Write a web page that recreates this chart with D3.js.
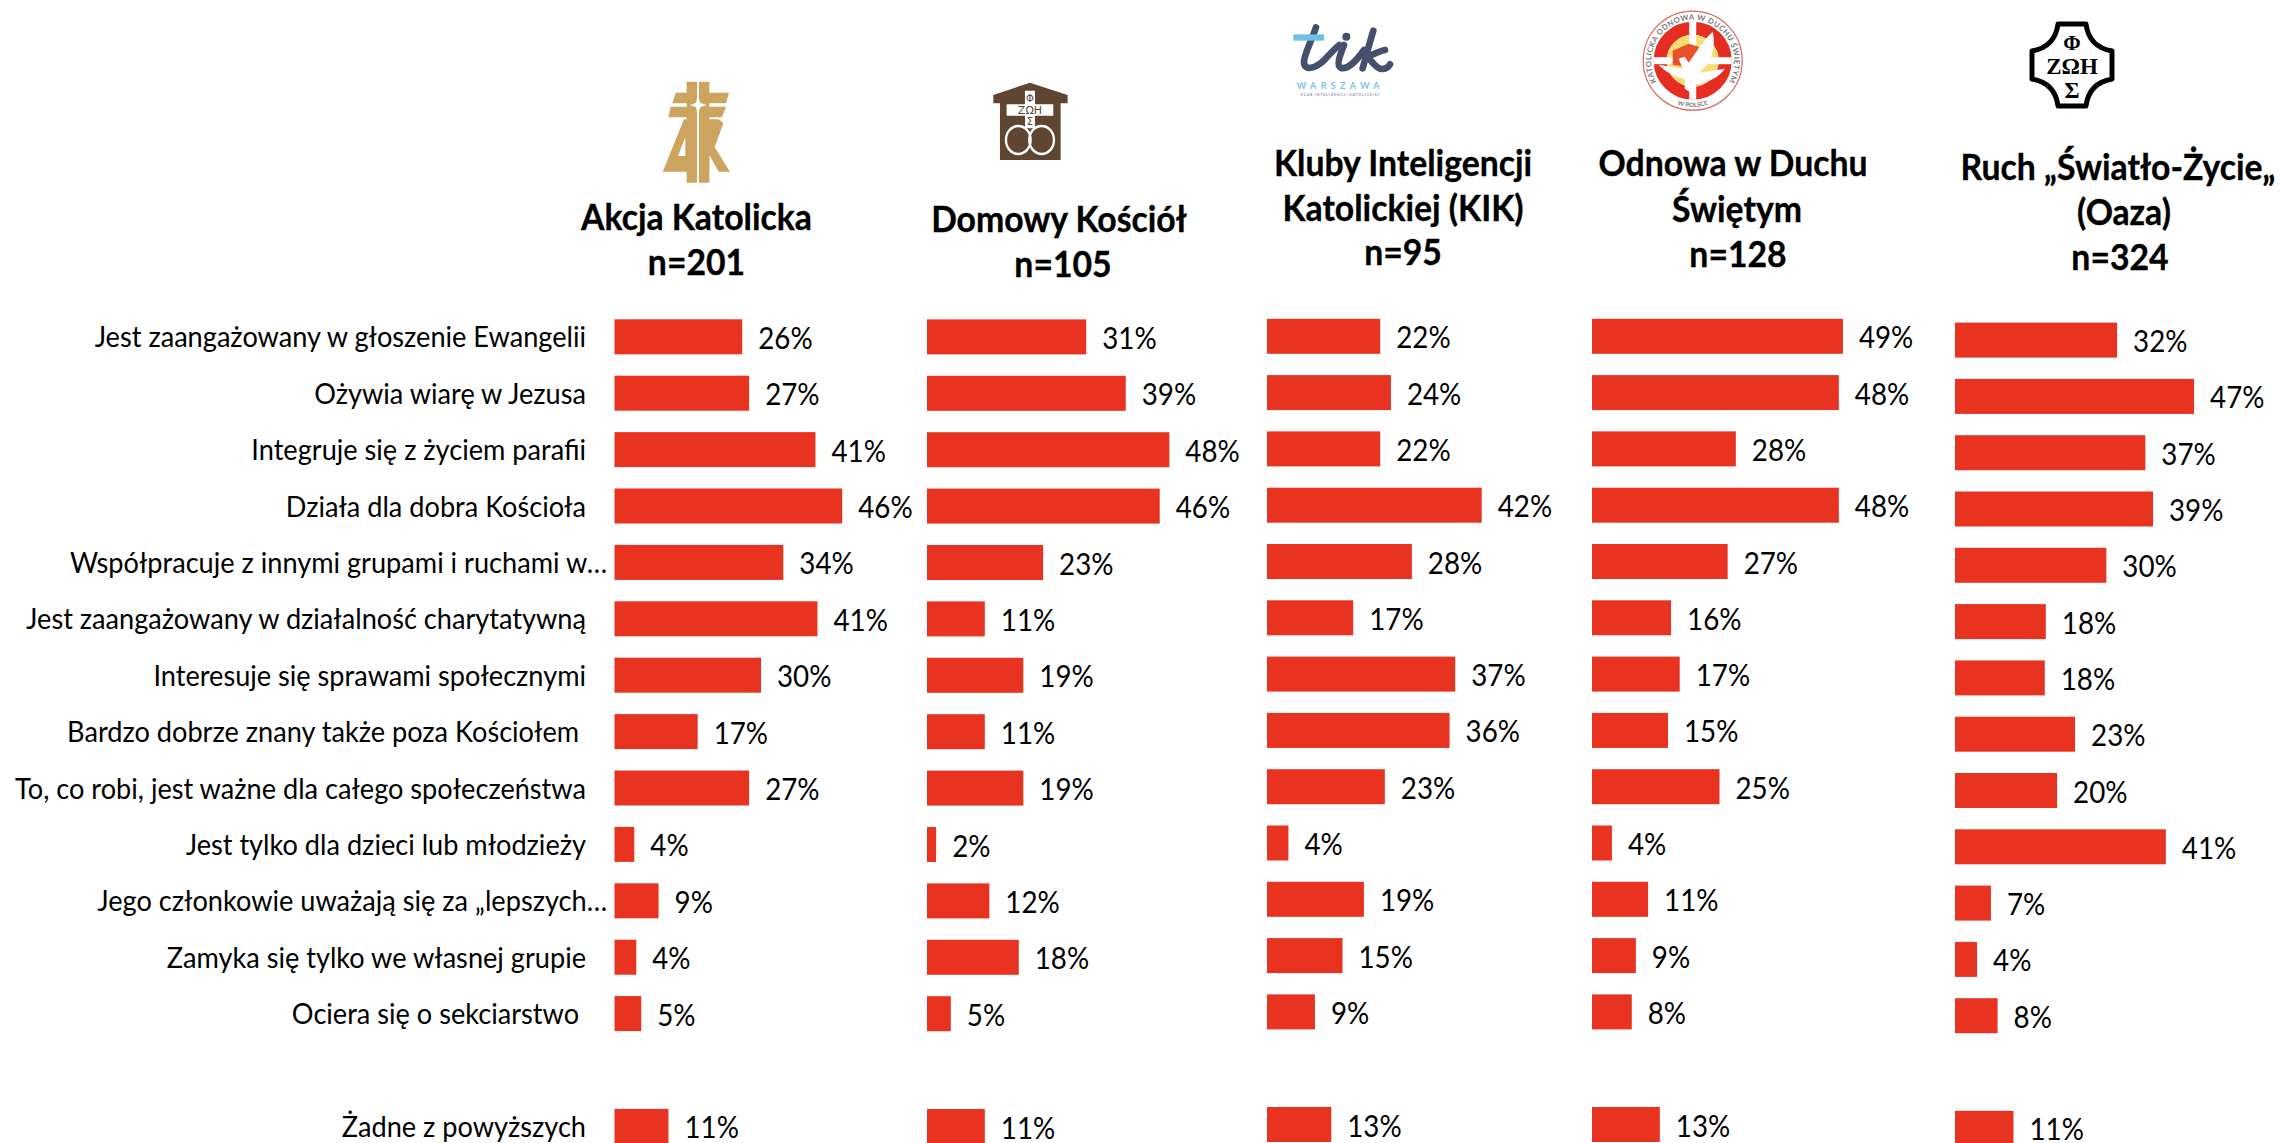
<!DOCTYPE html>
<html><head><meta charset="utf-8">
<script src="https://cdn.jsdelivr.net/npm/d3@7"></script>
<style>html,body{margin:0;padding:0;background:#fff;overflow:hidden}svg{display:block}text{font-family:Lato,"Open Sans",sans-serif}</style>
</head><body><svg id="c" width="2280" height="1143" xmlns="http://www.w3.org/2000/svg"></svg>
<script>
const categories = ["Jest zaangażowany w głoszenie Ewangelii","Ożywia wiarę w Jezusa","Integruje się z życiem parafii","Działa dla dobra Kościoła","Współpracuje z innymi grupami i ruchami w…","Jest zaangażowany w działalność charytatywną","Interesuje się sprawami społecznymi","Bardzo dobrze znany także poza Kościołem\u00a0","To, co robi, jest ważne dla całego społeczeństwa","Jest tylko dla dzieci lub młodzieży","Jego członkowie uważają się za „lepszych…","Zamyka się tylko we własnej grupie","Ociera się o sekciarstwo\u00a0","","Żadne z powyższych"];
const akcja  = [25.8,27.2,40.6,46.0,34.1,41.0,29.6,16.8,27.2,4.0,8.9,4.4,5.4,null,10.9];
const domowy = [31.4,39.2,47.8,45.9,22.9,11.4,19.0,11.4,19.0,1.8,12.3,18.1,4.7,null,11.4];
const kluby  = [22.2,24.3,22.2,42.1,28.4,16.9,36.9,35.8,23.1,4.2,19.0,14.8,9.4,null,12.6];
const odnowa = [49.2,48.4,28.2,48.4,26.6,15.5,17.2,14.9,25.0,3.9,11.0,8.6,7.8,null,13.3];
const oaza   = [31.6,46.6,37.1,38.6,29.5,17.7,17.5,23.4,19.9,41.1,7.0,4.3,8.3,null,11.4];
const seriesValues = [akcja,domowy,kluby,odnowa,oaza];
const columnStart = [614.5,927,1267,1592,1955];
const columnPxPerPct = [4.95,5.07,5.1,5.1,5.13];
const columnTop = [319.3,319.4,318.8,318.8,322.6];
const columnStep = [56.4,56.4,56.3,56.3,56.3];
const headerLines = [
  [["Akcja Katolicka",696.5,229.5],["n=201",696.5,274.5]],
  [["Domowy Kościół",1059,232],["n=105",1063,277]],
  [["Kluby Inteligencji",1403,175.5],["Katolickiej (KIK)",1403,220.5],["n=95",1403,265]],
  [["Odnowa w Duchu",1733,175.5],["Świętym",1737,222],["n=128",1738,267]],
  [["Ruch „Światło-Życie„",2118,179.5],["(Oaza)",2124,224.5],["n=324",2120,270]]
];
const BAR_H=35, RED="#E73320", CAT=0.92, VAL=0.925, HEAD=0.95;
const svg=d3.select("#c");
function squeeze(sel,f){sel.each(function(){const w=this.getComputedTextLength();d3.select(this).attr("textLength",w*f).attr("lengthAdjust","spacingAndGlyphs");});}

// category labels
const y0=d3.scaleBand().domain(d3.range(categories.length))
  .range([columnTop[0]-(columnStep[0]-BAR_H)/2,columnTop[0]-(columnStep[0]-BAR_H)/2+columnStep[0]*categories.length])
  .paddingInner(1-BAR_H/columnStep[0]).paddingOuter((1-BAR_H/columnStep[0])/2);
svg.append("g").selectAll("text").data(categories).join("text")
  .attr("x",d=>d.endsWith("…")?607:586).attr("y",(d,i)=>y0(i)+BAR_H/2+10.5)
  .attr("text-anchor","end").attr("font-size",29.5).attr("fill","#000").text(d=>d).call(squeeze,CAT);

// columns
seriesValues.forEach((vals,c)=>{
  const x=d3.scaleLinear().domain([0,50]).range([columnStart[c],columnStart[c]+50*columnPxPerPct[c]]);
  const off=(columnStep[c]-BAR_H)/2;
  const y=d3.scaleBand().domain(d3.range(vals.length))
    .range([columnTop[c]-off,columnTop[c]-off+columnStep[c]*vals.length])
    .paddingInner(1-BAR_H/columnStep[c]).paddingOuter((1-BAR_H/columnStep[c])/2);
  const rows=vals.map((v,i)=>({v,i})).filter(d=>d.v!==null);
  const g=svg.append("g");
  g.selectAll("rect").data(rows).join("rect")
    .attr("x",x(0)).attr("y",d=>y(d.i)).attr("width",d=>x(d.v)-x(0)).attr("height",y.bandwidth()).attr("fill",RED);
  g.selectAll("text").data(rows).join("text")
    .attr("x",d=>x(d.v)+16).attr("y",d=>y(d.i)+y.bandwidth()/2+12)
    .attr("font-size",30).attr("fill","#000").text(d=>Math.round(d.v)+"%").call(squeeze,VAL);
});

// headers
svg.append("g").selectAll("text").data(headerLines.flat()).join("text")
  .attr("x",d=>d[1]).attr("y",d=>d[2]).attr("text-anchor","middle")
  .attr("font-size",35.5).attr("font-weight",700).attr("stroke","#000").attr("stroke-width",0.35).attr("fill","#000").text(d=>d[0]).call(squeeze,HEAD);

// ---- logos (decorative vector sketches) ----
// Akcja Katolicka
const ak=svg.append("g").attr("transform","translate(640,60) scale(0.3333)").attr("fill","#CCA35F");
["M140,65 L171,65 L171,368 L140,368Z","M177,65 L208,65 L208,368 L177,368Z",
 "M107,98 L171,98 L171,130 L97,130Z","M177,98 L267,98 L258,130 L177,130Z",
 "M92,140 L171,140 L171,172 L85,172Z","M177,140 L258,140 L246,172 L177,172Z",
 "M132,178 L171,178 L171,335 L68,335Z",
 "M177,178 L236,178 L250,190 L224,262 L270,335 L236,335 L208,285 L208,335 L177,335Z"
].forEach(p=>ak.append("path").attr("d",p));
ak.append("path").attr("d","M136,232 L136,288 L114,288Z").attr("fill","#fff");
ak.append("path").attr("d","M174,105 L180,128 L200,135 L180,142 L174,170 L168,142 L150,135 L168,128Z").attr("fill","#fff");

// Domowy Kościół
const dk=svg.append("g").attr("transform","translate(640,60) scale(0.3333)");
dk.append("path").attr("fill","#5F4633").attr("d","M1170,68 L1283,105 L1283,130 L1262,130 L1262,300 L1080,300 L1080,130 L1060,130 L1060,105Z");
dk.append("path").attr("fill","#fff").attr("d","M1155,92 L1185,92 L1185,133 L1240,133 L1240,167 L1185,167 L1185,205 L1155,205 L1155,167 L1100,167 L1100,133 L1155,133Z");
dk.selectAll("ellipse").data([1135,1205]).join("ellipse").attr("cx",d=>d).attr("cy",240).attr("rx",37).attr("ry",42)
  .attr("fill","none").attr("stroke","#fff").attr("stroke-width",7);
dk.selectAll("text").data([["Φ",1170,127,30],["ΖΩΗ",1170,163,33],["Σ",1170,196,30]]).join("text")
  .attr("x",d=>d[1]).attr("y",d=>d[2]).attr("font-size",d=>d[3]).attr("text-anchor","middle").attr("fill","#5F4633")
  .style("font-family","'DejaVu Sans'").text(d=>d[0]);

// KIK
const kik=svg.append("g").attr("transform","translate(1270,0) scale(0.3333)");
const ks=kik.append("g").attr("fill","none").attr("stroke","#474F6F").attr("stroke-width",20).attr("stroke-linecap","round");
["M138,82 C125,122 100,168 102,188 C104,212 135,208 165,178 C180,162 192,148 208,135",
 "M222,135 C210,165 198,198 213,204 C232,208 258,185 282,150",
 "M310,92 C298,130 288,170 278,205",
 "M345,150 C330,152 305,165 290,172 C305,178 315,205 335,207 C348,207 356,200 360,193"
].forEach(p=>ks.append("path").attr("d",p));
kik.append("circle").attr("cx",229).attr("cy",110).attr("r",12).attr("fill","#474F6F");
kik.append("rect").attr("x",70).attr("y",103).attr("width",92).attr("height",19).attr("fill","#6DC1E3");
kik.append("text").attr("x",211).attr("y",268).attr("text-anchor","middle").attr("font-size",27).attr("font-weight",700)
  .attr("letter-spacing",13).attr("fill","#7CC3DE").text("WARSZAWA");
kik.append("text").attr("x",211).attr("y",288).attr("text-anchor","middle").attr("font-size",10.5).attr("font-weight",700)
  .attr("letter-spacing",2.5).attr("fill","#8d93a8").text("KLUB INTELIGENCJI KATOLICKIEJ");

// Odnowa
const od=svg.append("g").attr("transform","translate(1692.7,60.7)");
od.append("circle").attr("r",49.5).attr("fill","#fff").attr("stroke","#D9665E").attr("stroke-width",1.2);
od.append("circle").attr("r",32.5).attr("fill","none").attr("stroke","#E52D22").attr("stroke-width",13);
od.append("circle").attr("r",26).attr("fill","#F7DC72");
od.append("rect").attr("x",-3.5).attr("y",-39).attr("width",7).attr("height",78).attr("fill","#fff");
od.append("rect").attr("x",-39).attr("y",-3.5).attr("width",78).attr("height",7).attr("fill","#fff");
od.append("path").attr("fill","#E8512A").attr("d","M-20,-10 L-4,-17 L6,-14 L4,2 L-8,6 L-20,4Z");
od.append("path").attr("fill","#E8512A").attr("d","M-6,18 L6,20 L4,26 L-4,24Z");
od.append("path").attr("fill","#fff").attr("d","M20,-29 C24,-10 16,6 6,12 L32,8 C24,20 10,22 4,24 L2,34 L-8,28 L-8,18 C-20,16 -28,10 -34,4 L-10,8 L-14,-2 L-8,-4 L-4,2 C2,-6 10,-20 20,-29Z");
const defs=svg.append("defs");
defs.append("path").attr("id","arcTop").attr("d","M-32,27 A41.5,41.5 0 1 1 32,27");
defs.append("path").attr("id","arcBot").attr("d","M-22,41 A47,47 0 0 0 22,41");
od.append("text").attr("font-size",7.6).attr("fill","#777").attr("font-weight",700).attr("letter-spacing",0.5)
  .append("textPath").attr("href","#arcTop").attr("startOffset","50%").attr("text-anchor","middle").text("KATOLICKA ODNOWA W DUCHU ŚWIĘTYM");
od.append("text").attr("font-size",6.2).attr("fill","#777").attr("font-weight",700)
  .append("textPath").attr("href","#arcBot").attr("startOffset","50%").attr("text-anchor","middle").text("W POLSCE");

// Oaza
const oz=svg.append("g").attr("transform","translate(2072,65)");
oz.append("path").attr("fill","#fff").attr("stroke","#000").attr("stroke-width",5).attr("stroke-linejoin","round")
  .attr("d","M-14,-41 L14,-41 Q17,-18 40,-14 L40,14 Q17,18 14,41 L-14,41 Q-17,18 -40,14 L-40,-14 Q-17,-18 -14,-41Z");
oz.selectAll("text").data([["Φ",-15,21],["ΖΩΗ",9,23],["Σ",33,23]]).join("text")
  .attr("x",0).attr("y",d=>d[1]).attr("text-anchor","middle").attr("font-size",d=>d[2]).attr("font-weight",700)
  .attr("fill","#000").style("font-family","'Liberation Serif'").text(d=>d[0]);
</script></body></html>
